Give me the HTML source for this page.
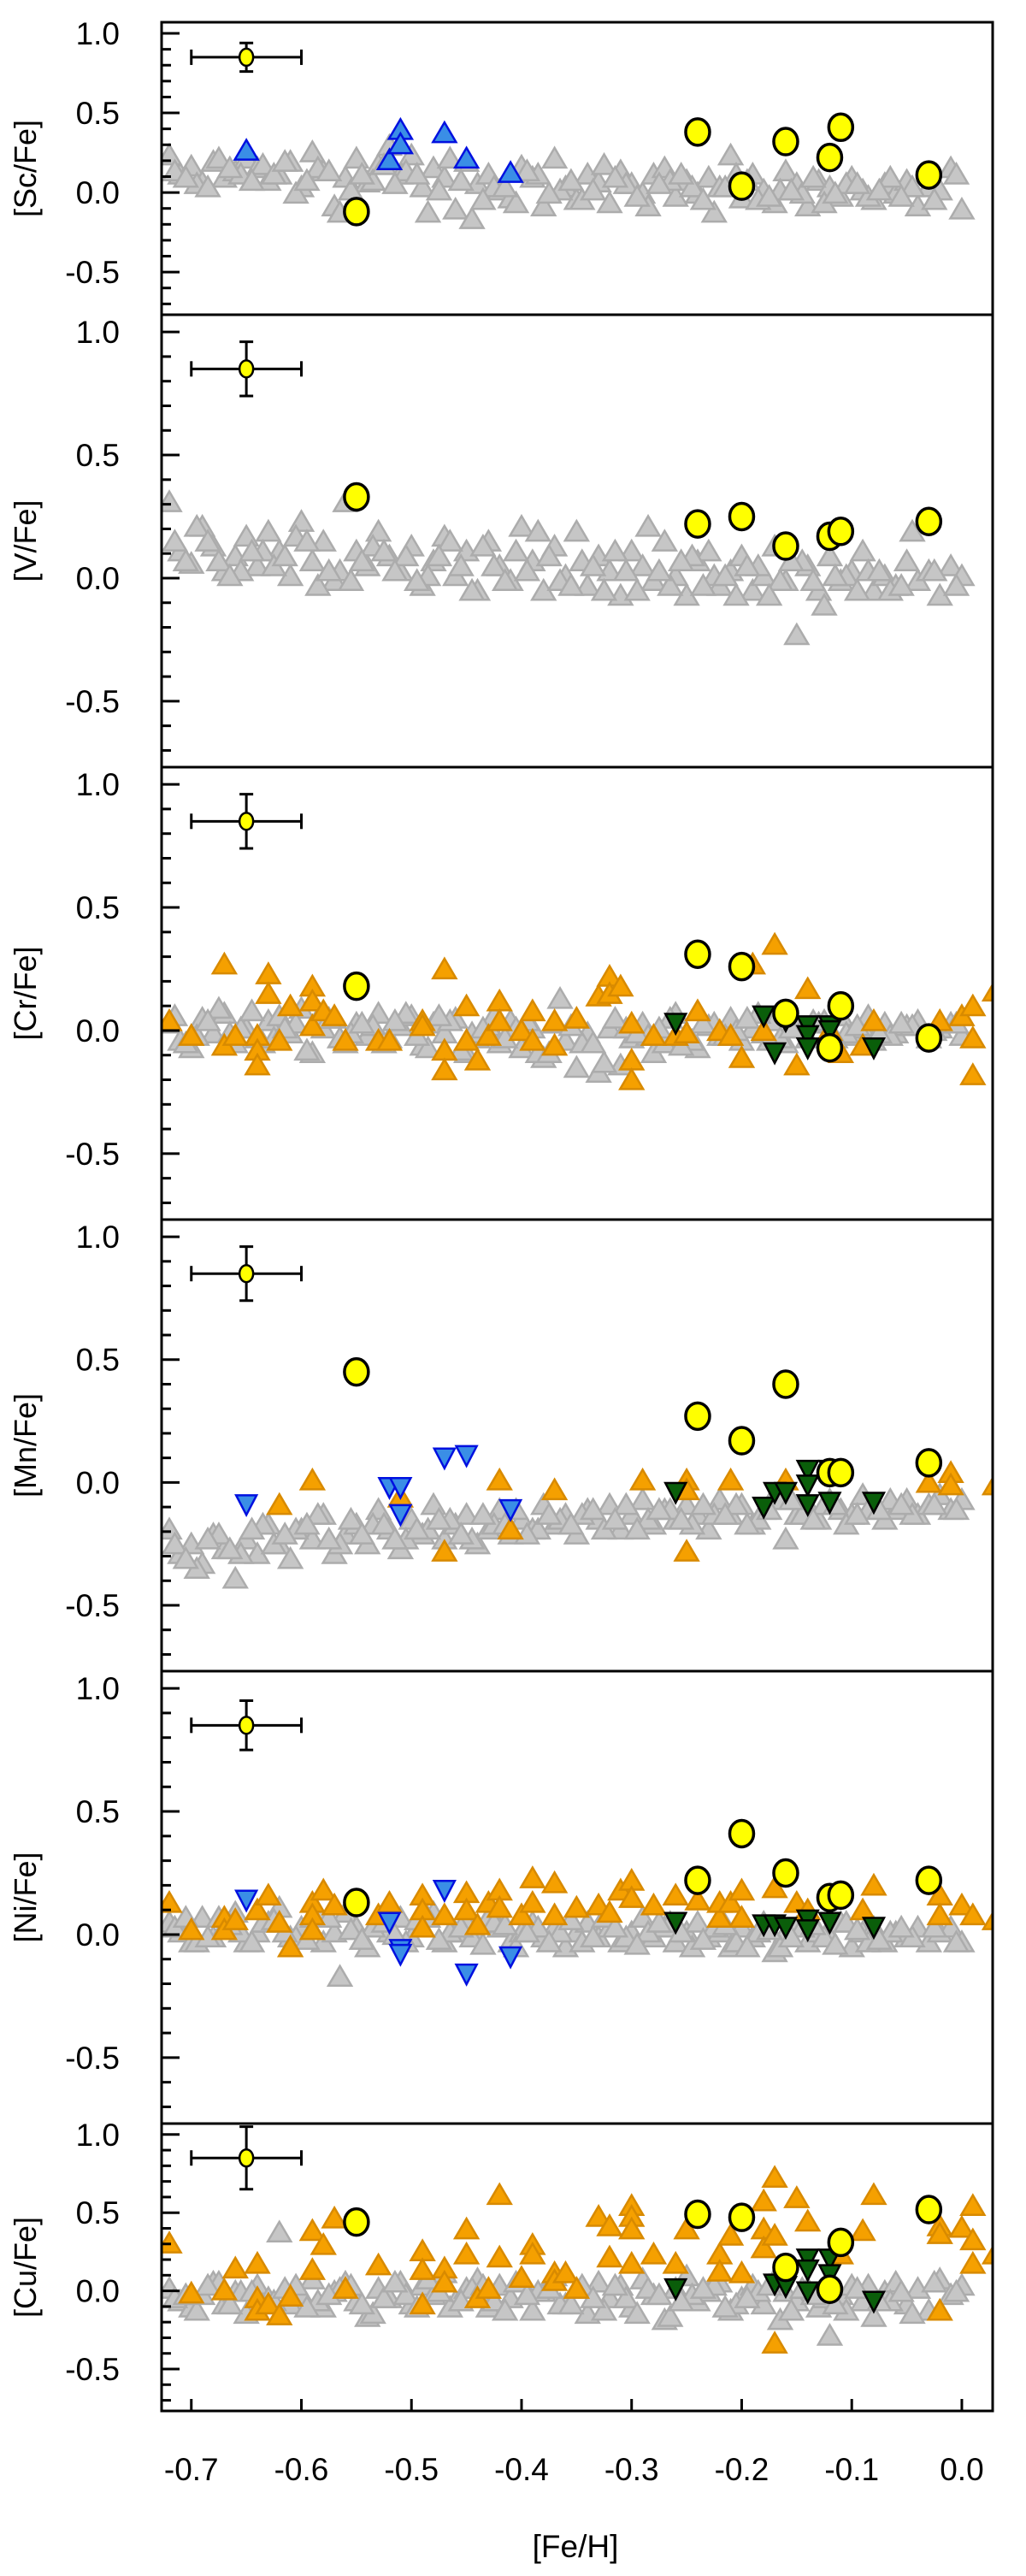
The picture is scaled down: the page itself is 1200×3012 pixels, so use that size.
<!DOCTYPE html>
<html><head><meta charset="utf-8"><style>
html,body{margin:0;padding:0;background:#fff;}
svg{display:block;}
text{font-family:"Liberation Sans",sans-serif;fill:#000;}
</style></head><body>
<svg id="chart" width="1200" height="3012" viewBox="0 0 1200 3012" xmlns="http://www.w3.org/2000/svg"></svg>
<script>
// ---- data ----
const panelLabels = ["[Sc/Fe]","[V/Fe]","[Cr/Fe]","[Mn/Fe]","[Ni/Fe]","[Cu/Fe]"];
const yTicks = [-0.5,0.0,0.5,1.0];
const yTickLabels = ["-0.5","0.0","0.5","1.0"];
const xTicks = [-0.7,-0.6,-0.5,-0.4,-0.3,-0.2,-0.1,0.0];
const xTickLabels = ["-0.7","-0.6","-0.5","-0.4","-0.3","-0.2","-0.1","0.0"];
const errY = [0.09,0.11,0.11,0.11,0.10,0.20];

const grayX = [-0.72,-0.71,-0.70,-0.69,-0.68,-0.67,-0.66,-0.65,-0.64,-0.63,
-0.62,-0.61,-0.60,-0.59,-0.58,-0.57,-0.56,-0.55,-0.54,-0.53,
-0.52,-0.51,-0.50,-0.49,-0.48,-0.47,-0.46,-0.45,-0.44,-0.43,
-0.42,-0.41,-0.40,-0.39,-0.38,-0.37,-0.36,-0.35,-0.34,-0.33,
-0.32,-0.31,-0.30,-0.29,-0.28,-0.27,-0.26,-0.25,-0.24,-0.23,
-0.22,-0.21,-0.20,-0.19,-0.18,-0.17,-0.16,-0.15,-0.14,-0.13,
-0.12,-0.11,-0.10,-0.09,-0.08,-0.07,-0.06,-0.05,-0.04,-0.03,
-0.02,-0.01,0.00,
-0.715,-0.695,-0.675,-0.655,-0.635,-0.605,-0.585,-0.565,-0.535,-0.505,
-0.485,-0.465,-0.445,-0.425,-0.405,-0.385,-0.365,-0.345,-0.325,-0.305,
-0.285,-0.265,-0.245,-0.225,-0.205,-0.185,-0.165,-0.145,-0.125,-0.105,
-0.085,-0.065,-0.045,-0.025,-0.005,
-0.705,-0.685,-0.665,-0.645,-0.625,-0.615,-0.595,-0.575,-0.555,-0.545,
-0.525,-0.515,-0.495,-0.475,-0.455,-0.435,-0.415,-0.395,-0.375,-0.355,
-0.335,-0.315,-0.295,-0.275,-0.255,-0.235,-0.215,-0.195,-0.175,-0.155,
-0.135,-0.115,-0.095,-0.075,-0.055];

const grayScY = [0.22,0.10,0.15,0.05,0.18,0.08,0.12,0.20,0.14,0.06,
0.10,0.18,0.02,0.24,0.12,-0.10,0.08,0.20,0.05,0.16,
0.28,0.10,0.22,0.02,0.14,0.08,-0.12,0.18,0.04,0.10,
0.00,-0.05,0.15,0.08,-0.10,0.20,0.02,-0.06,0.10,0.05,
-0.08,0.12,0.04,-0.02,0.10,0.14,-0.04,0.06,-0.02,0.08,
0.02,0.22,-0.05,0.10,0.00,-0.08,0.12,0.04,-0.10,0.06,
0.02,-0.04,0.08,0.00,-0.06,0.04,-0.02,0.06,-0.10,0.02,
0.00,0.14,-0.12,
0.12,0.04,0.20,0.10,0.16,-0.02,0.14,-0.14,0.06,0.12,
-0.14,0.20,-0.18,0.02,-0.08,0.10,0.00,-0.06,0.16,0.04,
-0.10,0.06,0.02,-0.14,0.10,-0.06,0.00,-0.02,-0.08,0.04,
-0.04,0.08,0.02,-0.06,0.10,
0.08,0.02,0.14,0.06,0.10,0.18,0.06,0.12,0.00,0.10,
0.16,0.04,0.10,0.00,0.06,-0.06,0.02,0.12,-0.02,0.06,
0.00,0.08,-0.04,0.04,0.10,-0.06,0.02,0.06,-0.04,0.00,
0.08,-0.02,0.04,0.00,-0.04];

const grayVY = [0.30,0.10,0.05,0.20,0.12,0.02,0.08,0.16,0.04,0.18,
0.10,0.00,0.22,0.06,0.14,-0.02,0.30,0.10,0.04,0.18,
0.08,0.02,0.12,-0.04,0.06,0.16,0.00,0.10,-0.06,0.14,
0.04,-0.02,0.20,0.06,-0.06,0.12,0.00,0.18,-0.04,0.08,
0.02,-0.08,0.10,0.04,-0.02,0.14,0.00,-0.08,0.06,0.10,
-0.04,0.02,0.08,-0.06,0.00,0.12,-0.02,-0.24,0.04,-0.06,
0.08,-0.02,0.02,0.10,-0.06,0.00,-0.04,0.06,-0.02,0.02,
-0.08,0.04,0.00,
0.14,0.20,0.06,0.02,0.10,0.16,-0.04,0.02,0.12,0.08,
0.00,0.14,-0.06,0.04,0.10,0.18,-0.02,0.06,-0.06,0.02,
0.20,-0.04,0.08,0.00,-0.08,0.04,-0.02,0.06,-0.12,0.00,
0.02,-0.06,0.18,0.02,-0.04,
0.06,0.14,0.00,0.10,0.04,0.08,0.14,0.02,-0.02,0.06,
0.10,0.02,-0.02,0.08,0.04,0.12,-0.02,0.02,0.08,-0.04,
0.04,0.10,-0.06,0.02,0.06,-0.04,0.00,0.04,-0.08,0.06,
-0.02,0.00,-0.06,0.02,-0.04];

const grayCrY = [0.02,-0.05,-0.08,0.04,-0.02,0.06,-0.06,0.00,-0.04,0.03,
0.05,-0.02,0.08,-0.10,0.00,0.04,-0.06,0.02,-0.03,0.06,
-0.04,0.01,0.05,-0.07,0.02,-0.02,0.04,-0.10,-0.04,0.01,
-0.06,0.03,-0.08,0.00,-0.12,0.02,-0.05,-0.16,-0.02,-0.18,
0.00,-0.15,-0.04,0.02,-0.10,-0.06,0.06,-0.02,-0.08,0.01,
-0.03,0.04,-0.05,0.00,-0.02,0.03,-0.06,0.01,-0.04,0.02,
-0.01,0.05,-0.03,0.00,-0.05,0.02,-0.02,0.01,0.03,-0.04,
0.00,0.02,-0.03,
0.05,-0.03,0.08,0.00,-0.06,0.02,0.04,-0.04,0.01,0.06,
-0.08,0.03,-0.02,0.05,0.00,-0.10,0.12,-0.06,-0.14,0.00,
-0.03,0.04,-0.05,0.02,-0.01,0.06,-0.04,0.00,0.03,-0.02,
0.05,-0.03,0.01,-0.01,0.02,
-0.06,0.03,-0.02,0.07,-0.04,0.00,-0.09,0.04,-0.02,0.02,
-0.06,0.03,-0.03,0.05,-0.09,0.00,-0.04,0.03,-0.10,0.01,
-0.06,0.04,-0.02,0.00,-0.07,0.02,-0.03,0.04,-0.05,0.00,
0.03,-0.04,0.01,-0.02,0.02];

const grayMnY = [-0.20,-0.30,-0.26,-0.34,-0.22,-0.28,-0.40,-0.24,-0.30,-0.18,
-0.26,-0.32,-0.20,-0.24,-0.14,-0.30,-0.22,-0.18,-0.26,-0.12,
-0.20,-0.28,-0.16,-0.22,-0.10,-0.24,-0.18,-0.14,-0.26,-0.20,
-0.12,-0.22,-0.16,-0.20,-0.10,-0.18,-0.14,-0.22,-0.12,-0.16,
-0.10,-0.20,-0.14,-0.08,-0.18,-0.12,-0.16,-0.10,-0.14,-0.20,
-0.08,-0.14,-0.10,-0.18,-0.12,-0.06,-0.24,-0.14,-0.10,-0.16,
-0.08,-0.12,-0.14,-0.06,-0.10,-0.16,-0.12,-0.08,-0.14,-0.10,
-0.06,-0.12,-0.08,
-0.26,-0.36,-0.22,-0.30,-0.18,-0.20,-0.14,-0.26,-0.18,-0.24,
-0.20,-0.16,-0.24,-0.18,-0.12,-0.20,-0.16,-0.14,-0.20,-0.10,
-0.16,-0.12,-0.18,-0.14,-0.10,-0.16,-0.08,-0.14,-0.10,-0.18,
-0.12,-0.08,-0.14,-0.10,-0.12,
-0.32,-0.24,-0.28,-0.20,-0.26,-0.22,-0.18,-0.24,-0.16,-0.22,
-0.18,-0.24,-0.20,-0.16,-0.22,-0.14,-0.18,-0.22,-0.14,-0.18,
-0.12,-0.16,-0.20,-0.12,-0.16,-0.10,-0.14,-0.18,-0.12,-0.08,
-0.16,-0.10,-0.14,-0.12,-0.10];

const grayNiY = [0.04,0.00,-0.04,0.06,-0.02,0.02,0.08,-0.04,0.00,0.04,
0.10,-0.02,0.02,0.06,-0.04,0.00,0.08,0.02,-0.06,0.04,
0.00,0.06,-0.02,0.02,0.08,-0.04,0.00,0.04,-0.02,0.06,
0.02,-0.04,0.00,0.04,-0.02,0.02,-0.06,0.00,0.04,-0.02,
0.02,-0.04,0.00,0.06,-0.02,0.02,-0.04,0.00,0.04,-0.02,
0.00,-0.06,0.02,-0.02,0.04,-0.08,0.00,0.02,-0.04,0.00,
-0.02,0.04,-0.06,0.00,0.02,-0.04,0.00,-0.02,0.02,-0.04,
0.00,0.02,-0.04,
0.02,-0.04,0.06,0.00,0.04,-0.02,0.08,-0.18,0.02,-0.04,
0.06,0.00,-0.02,0.04,-0.06,0.02,0.00,-0.04,0.06,-0.02,
0.00,0.04,-0.06,0.02,-0.04,0.00,-0.06,0.02,-0.02,0.04,
-0.04,0.00,-0.02,0.02,-0.04,
0.06,-0.02,0.03,-0.04,0.05,0.00,-0.03,0.06,0.01,-0.03,
0.04,-0.01,0.05,-0.03,0.02,-0.05,0.03,0.00,-0.04,0.05,
-0.02,0.02,-0.05,0.04,0.00,-0.03,0.03,-0.06,0.01,-0.02,
0.03,-0.05,0.01,-0.03,0.02];

const grayCuY = [0.00,-0.08,-0.12,-0.04,0.04,-0.10,-0.02,-0.16,0.02,-0.06,
0.36,-0.10,-0.04,0.06,-0.12,-0.02,0.04,-0.08,-0.18,0.00,
-0.06,0.04,-0.10,0.02,-0.04,0.10,-0.08,0.00,0.06,-0.12,
0.02,-0.06,0.04,-0.14,-0.02,0.08,-0.10,0.00,-0.16,0.04,
-0.06,0.02,-0.12,0.06,-0.04,-0.20,0.00,0.08,-0.08,-0.02,
0.04,-0.14,-0.06,0.02,-0.10,0.06,-0.02,-0.08,0.00,-0.12,
-0.30,-0.04,0.02,-0.08,-0.18,-0.02,0.04,-0.10,0.00,-0.14,
0.06,-0.04,0.02,
-0.06,-0.14,0.04,-0.02,-0.10,0.02,-0.08,0.00,-0.16,-0.04,
0.06,-0.12,0.00,-0.08,0.04,-0.02,-0.10,0.02,-0.14,-0.06,
0.00,-0.18,-0.04,0.02,-0.10,-0.02,-0.20,0.00,-0.06,-0.14,
0.02,-0.08,-0.16,0.04,-0.02,
-0.04,0.02,-0.10,-0.02,-0.08,0.00,-0.12,-0.04,0.02,-0.10,
-0.06,0.04,-0.12,-0.02,-0.08,0.02,-0.14,-0.04,0.00,-0.10,
-0.06,0.02,-0.16,-0.04,-0.08,0.00,-0.12,-0.06,0.02,-0.14,
-0.04,-0.10,0.00,-0.08,-0.02];

const starX = [-0.55,-0.24,-0.20,-0.16,-0.12,-0.11,-0.03];
const starScY = [-0.12,0.38,0.04,0.32,0.22,0.41,0.11];
const starVY  = [0.33,0.22,0.25,0.13,0.17,0.19,0.23];
const starCrY = [0.18,0.31,0.26,0.07,-0.07,0.10,-0.03];
const starMnY = [0.45,0.27,0.17,0.40,0.04,0.04,0.08];
const starNiY = [0.13,0.22,0.41,0.25,0.15,0.16,0.22];
const starCuY = [0.44,0.49,0.47,0.15,0.01,0.31,0.52];

const blueUpX = [-0.65,-0.52,-0.51,-0.51,-0.47,-0.45,-0.41];
const blueUpScY = [0.25,0.19,0.38,0.29,0.36,0.20,0.11];
const blueDnX = [-0.65,-0.52,-0.51,-0.51,-0.47,-0.45,-0.41];
const blueDnMnY = [-0.08,-0.01,-0.01,-0.12,0.11,0.12,-0.10];
const blueDnNiX = [-0.65,-0.52,-0.51,-0.51,-0.47,-0.45,-0.41];
const blueDnNiY = [0.15,0.06,-0.05,-0.07,0.19,-0.15,-0.08];

const greenCrX = [-0.26,-0.18,-0.17,-0.16,-0.14,-0.14,-0.14,-0.12,-0.12,-0.08];
const greenCrY = [0.04,0.07,-0.08,0.05,0.03,-0.01,-0.06,0.03,0.01,-0.06];
const greenMnX = [-0.26,-0.18,-0.17,-0.16,-0.14,-0.14,-0.14,-0.12,-0.12,-0.08];
const greenMnY = [-0.03,-0.09,-0.03,-0.03,0.06,0.00,-0.08,0.06,-0.07,-0.07];
const greenNiX = [-0.26,-0.18,-0.17,-0.16,-0.14,-0.14,-0.12,-0.08];
const greenNiY = [0.06,0.05,0.05,0.04,0.07,0.03,0.06,0.04];
const greenCuX = [-0.26,-0.17,-0.16,-0.14,-0.14,-0.14,-0.12,-0.12,-0.08];
const greenCuY = [0.03,0.06,0.045,0.22,0.15,0.01,0.22,0.12,-0.05];

const orangeCrX = [-0.72,-0.70,-0.67,-0.67,-0.66,-0.64,-0.64,-0.64,-0.63,-0.63,-0.62,-0.61,-0.59,-0.59,-0.59,-0.58,-0.57,-0.56,-0.53,-0.52,-0.49,-0.49,-0.47,-0.47,-0.47,-0.45,-0.45,-0.44,-0.43,-0.42,-0.42,-0.40,-0.39,-0.39,-0.37,-0.37,-0.35,-0.33,-0.32,-0.32,-0.31,-0.30,-0.30,-0.30,-0.28,-0.26,-0.25,-0.24,-0.22,-0.21,-0.20,-0.19,-0.18,-0.17,-0.15,-0.14,-0.12,-0.11,-0.09,-0.08,-0.02,0.00,0.01,0.01,0.01,0.03];
const orangeCrY = [0.03,-0.03,0.26,-0.07,-0.03,-0.03,-0.09,-0.15,0.22,0.14,-0.05,0.09,0.17,0.11,0.01,0.07,0.05,-0.05,-0.05,-0.05,0.03,0.01,0.24,-0.09,-0.17,0.09,-0.05,-0.13,-0.03,0.11,0.03,-0.01,0.07,-0.05,0.03,-0.07,0.04,0.13,0.21,0.14,0.17,0.02,-0.13,-0.21,-0.03,-0.03,-0.02,0.07,-0.01,-0.03,-0.12,0.26,-0.01,0.34,-0.15,0.16,-0.01,-0.10,-0.07,0.03,0.03,0.05,0.09,-0.04,-0.19,0.15];
const orangeMnX = [-0.62,-0.59,-0.51,-0.47,-0.42,-0.41,-0.37,-0.29,-0.25,-0.25,-0.25,-0.21,-0.16,-0.03,-0.01,-0.01,0.03];
const orangeMnY = [-0.10,0.00,-0.07,-0.29,0.00,-0.20,-0.04,0.00,0.00,-0.04,-0.29,0.00,0.00,-0.01,0.03,-0.02,-0.02];
const orangeNiX = [-0.72,-0.70,-0.67,-0.67,-0.66,-0.64,-0.63,-0.62,-0.61,-0.59,-0.59,-0.59,-0.58,-0.57,-0.53,-0.52,-0.49,-0.49,-0.49,-0.47,-0.45,-0.45,-0.44,-0.43,-0.42,-0.42,-0.40,-0.39,-0.39,-0.37,-0.37,-0.35,-0.33,-0.32,-0.31,-0.30,-0.30,-0.28,-0.26,-0.24,-0.22,-0.22,-0.21,-0.20,-0.20,-0.17,-0.15,-0.14,-0.09,-0.08,-0.02,-0.02,0.00,0.01,0.03];
const orangeNiY = [0.12,0.01,0.06,0.01,0.05,0.09,0.15,0.04,-0.06,0.12,0.07,0.01,0.17,0.11,0.07,0.12,0.15,0.09,0.02,0.07,0.16,0.09,0.03,0.12,0.17,0.10,0.07,0.22,0.12,0.20,0.07,0.10,0.11,0.08,0.17,0.21,0.14,0.11,0.15,0.13,0.06,0.12,0.12,0.17,0.06,0.18,0.12,0.09,0.09,0.19,0.15,0.07,0.11,0.07,0.05];
const orangeCuX = [-0.72,-0.70,-0.67,-0.66,-0.64,-0.64,-0.64,-0.63,-0.62,-0.61,-0.59,-0.59,-0.58,-0.57,-0.56,-0.53,-0.49,-0.49,-0.49,-0.47,-0.47,-0.45,-0.45,-0.44,-0.43,-0.42,-0.42,-0.40,-0.39,-0.39,-0.37,-0.37,-0.36,-0.35,-0.33,-0.32,-0.32,-0.30,-0.30,-0.30,-0.30,-0.28,-0.26,-0.25,-0.22,-0.22,-0.21,-0.20,-0.18,-0.18,-0.18,-0.17,-0.17,-0.17,-0.15,-0.14,-0.11,-0.09,-0.08,-0.02,-0.02,-0.02,0.00,0.01,0.01,0.01,0.03];
const orangeCuY = [0.29,-0.03,-0.01,0.13,0.16,-0.06,-0.14,-0.10,-0.17,-0.05,0.37,0.12,0.28,0.45,0.00,0.15,0.24,0.12,-0.10,0.13,0.04,0.38,0.22,-0.06,0.00,0.60,0.20,0.07,0.28,0.22,0.10,0.05,0.10,0.00,0.46,0.40,0.20,0.53,0.46,0.38,0.16,0.22,0.16,0.38,0.22,0.11,0.34,0.10,0.56,0.38,0.26,0.71,0.34,-0.35,0.58,0.43,0.22,0.37,0.60,0.40,0.35,-0.14,0.39,0.53,0.31,0.16,0.22];

// ---- layout ----
const X0 = 189, X1 = 1161, XMIN = -0.727, XMAX = 0.028;
const YMIN = -0.768, YMAX = 1.07;
const tops = [26,368,897,1426,1954,2483];
const bots = [368,897,1426,1954,2483,2819];
const NS = "http://www.w3.org/2000/svg";
const svg = document.getElementById('chart');
function xs(v){ return X0 + (v - XMIN) / (XMAX - XMIN) * (X1 - X0); }
function mk(tag, attrs, parent){ const e = document.createElementNS(NS, tag); for (const k in attrs) e.setAttribute(k, attrs[k]); (parent||svg).appendChild(e); return e; }

const defs = mk('defs', {});
const panels = [
 {gray: grayScY, star: starScY, blueUp: [blueUpX, blueUpScY]},
 {gray: grayVY, star: starVY},
 {gray: grayCrY, star: starCrY, orange: [orangeCrX, orangeCrY], green: [greenCrX, greenCrY]},
 {gray: grayMnY, star: starMnY, orange: [orangeMnX, orangeMnY], blueDn: [blueDnX, blueDnMnY], green: [greenMnX, greenMnY]},
 {gray: grayNiY, star: starNiY, orange: [orangeNiX, orangeNiY], blueDn: [blueDnNiX, blueDnNiY], green: [greenNiX, greenNiY]},
 {gray: grayCuY, star: starCuY, orange: [orangeCuX, orangeCuY], green: [greenCuX, greenCuY]}
];
const names = ["sc","v","cr","mn","ni","cu"];

function upTri(g, cx, cy, fill, stroke, name){
  const p = mk('polygon', {points: `${cx},${cy-15} ${cx-13.5},${cy+8} ${cx+13.5},${cy+8}`, fill: fill, stroke: stroke, 'stroke-width': 2.5, 'stroke-linejoin':'miter'}, g);
  
  
}
function dnTri(g, cx, cy, fill, stroke, name){
  const p = mk('polygon', {points: `${cx},${cy+15} ${cx-12},${cy-8} ${cx+12},${cy-8}`, fill: fill, stroke: stroke, 'stroke-width': 2.5}, g);
  
  
}

panels.forEach((P, pi) => {
  const top = tops[pi], bot = bots[pi];
  const ys = v => top + (YMAX - v) / (YMAX - YMIN) * (bot - top);
  const pg = mk('g', {});
  
  
  const cp = mk('clipPath', {id: 'clip' + pi}, defs);
  mk('rect', {x: X0, y: top, width: X1 - X0, height: bot - top}, cp);
  const g = mk('g', {'clip-path': `url(#clip${pi})`}, pg);
  
  

  const n = Math.min(grayX.length, P.gray.length);
  for (let i = 0; i < n; i++) upTri(g, xs(grayX[i]), ys(P.gray[i]), '#c6c6c6', '#acacac', 'field-star-point');
  if (P.orange) { const [ox, oy] = P.orange; for (let i = 0; i < Math.min(ox.length, oy.length); i++) upTri(g, xs(ox[i]), ys(oy[i]), '#f5a000', '#d88a00', 'comparison-star-point'); }
  if (P.blueUp) { const [bx, by] = P.blueUp; for (let i = 0; i < bx.length; i++) upTri(g, xs(bx[i]), ys(by[i]), '#3a8ee6', '#0010e0', 'blue-star-point'); }
  if (P.blueDn) { const [bx, by] = P.blueDn; for (let i = 0; i < bx.length; i++) dnTri(g, xs(bx[i]), ys(by[i]), '#3a8ee6', '#0010e0', 'blue-upper-limit'); }
  if (P.green) { const [gx, gy] = P.green; for (let i = 0; i < gx.length; i++) dnTri(g, xs(gx[i]), ys(gy[i]), '#0a5e0a', '#000', 'green-star-point'); }
  for (let i = 0; i < starX.length; i++) {
    const c = mk('ellipse', {cx: xs(starX[i]), cy: ys(P.star[i]), rx: 14, ry: 15.5, fill: '#ffff00', stroke: '#000', 'stroke-width': 3.5}, g);
    
    
  }
  // error bar
  const eg = mk('g', {stroke: '#000', 'stroke-width': 3, fill: 'none'}, pg);
  
  
  const ex = xs(-0.65), ey = ys(0.85), ex0 = xs(-0.70), ex1 = xs(-0.60), ey0 = ys(0.85 + errY[pi]), ey1 = ys(0.85 - errY[pi]);
  mk('line', {x1: ex0, y1: ey, x2: ex1, y2: ey}, eg);
  mk('line', {x1: ex0, y1: ey - 9, x2: ex0, y2: ey + 9}, eg);
  mk('line', {x1: ex1, y1: ey - 9, x2: ex1, y2: ey + 9}, eg);
  mk('line', {x1: ex, y1: ey0, x2: ex, y2: ey1}, eg);
  mk('line', {x1: ex - 8, y1: ey0, x2: ex + 8, y2: ey0}, eg);
  mk('line', {x1: ex - 8, y1: ey1, x2: ex + 8, y2: ey1}, eg);
  mk('ellipse', {cx: ex, cy: ey, rx: 8, ry: 10, fill: '#ffff00', stroke: '#000', 'stroke-width': 2.5}, eg);

  // frame
  const fr = mk('rect', {x: X0, y: top, width: X1 - X0, height: bot - top, fill: 'none', stroke: '#000', 'stroke-width': 3}, pg);
  
  
  // y ticks
  for (let k = -7; k <= 10; k++) {
    const v = k / 10, y = ys(v), major = (k % 5 === 0);
    mk('line', {x1: X0, y1: y, x2: X0 + (major ? 21 : 11), y2: y, stroke: '#000', 'stroke-width': 3}, pg);
  }
  yTicks.forEach((v, j) => {
    const t = mk('text', {x: 140, y: ys(v) + 13, 'text-anchor': 'end', 'font-size': 37}, pg);
    t.textContent = yTickLabels[j];
    
    
  });
  const cy = (top + bot) / 2;
  const yl = mk('text', {x: 0, y: 0, 'text-anchor': 'middle', 'font-size': 36, transform: `translate(42,${cy}) rotate(-90)`}, pg);
  yl.textContent = panelLabels[pi];
  
  
});

// x axis
const bot = bots[5];
const xg = mk('g', {});


xTicks.forEach((v, j) => {
  mk('line', {x1: xs(v), y1: bot, x2: xs(v), y2: bot - 14, stroke: '#000', 'stroke-width': 3}, xg);
  const t = mk('text', {x: xs(v), y: 2900, 'text-anchor': 'middle', 'font-size': 37}, xg);
  t.textContent = xTickLabels[j];
  
  
});
const xt = mk('text', {x: 673, y: 2990, 'text-anchor': 'middle', 'font-size': 37}, xg);
xt.textContent = '[Fe/H]';


</script>
</body></html>
